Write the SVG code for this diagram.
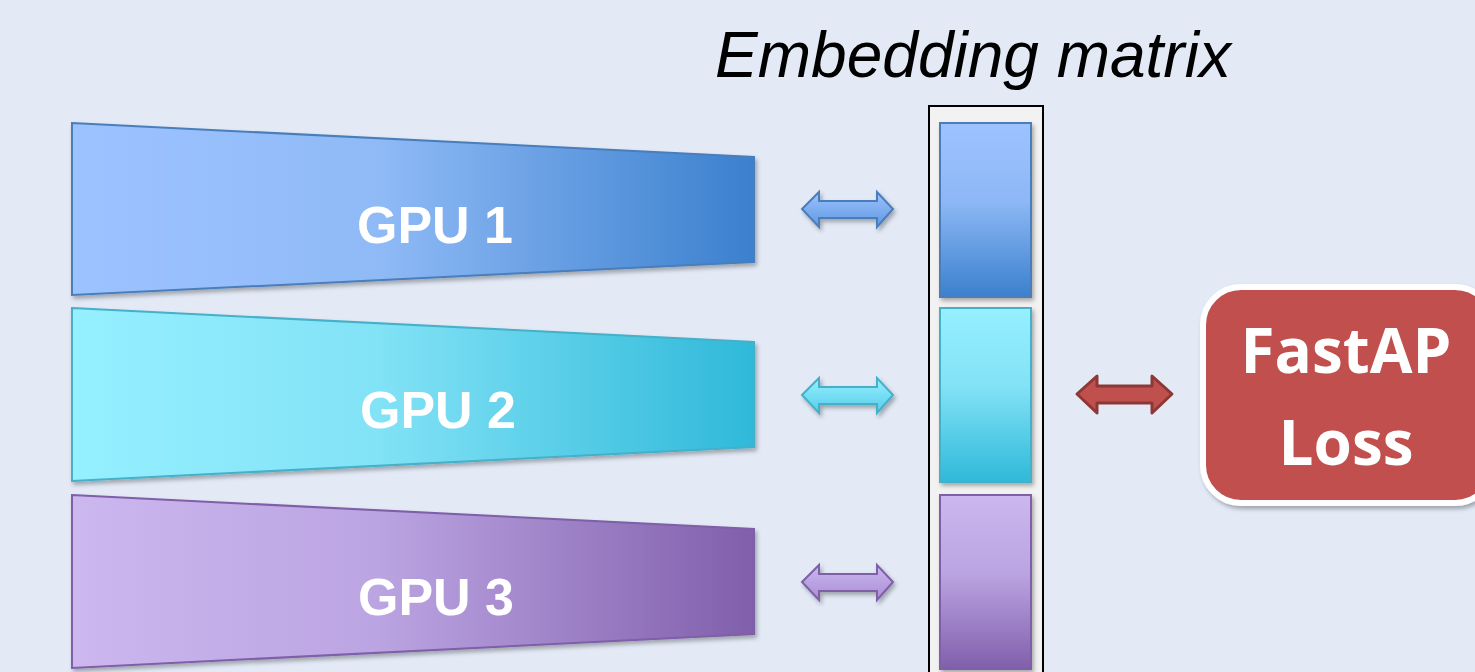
<svg xmlns="http://www.w3.org/2000/svg" width="1475" height="672" viewBox="0 0 1475 672">
<defs>
<linearGradient id="gBlueH" x1="0" y1="0" x2="1" y2="0"><stop offset="0" stop-color="#9DC3FF"/><stop offset="0.45" stop-color="#8FBAF6"/><stop offset="1" stop-color="#3B80CE"/></linearGradient>
<linearGradient id="gCyanH" x1="0" y1="0" x2="1" y2="0"><stop offset="0" stop-color="#95F0FF"/><stop offset="0.45" stop-color="#82E2F6"/><stop offset="1" stop-color="#2FB9D9"/></linearGradient>
<linearGradient id="gPurpH" x1="0" y1="0" x2="1" y2="0"><stop offset="0" stop-color="#CCB7EF"/><stop offset="0.45" stop-color="#BBA4E2"/><stop offset="1" stop-color="#805FAB"/></linearGradient>
<linearGradient id="gBlueV" x1="0" y1="0" x2="0" y2="1"><stop offset="0" stop-color="#9DC3FF"/><stop offset="0.45" stop-color="#8DB8F5"/><stop offset="1" stop-color="#3B80CE"/></linearGradient>
<linearGradient id="gCyanV" x1="0" y1="0" x2="0" y2="1"><stop offset="0" stop-color="#95F0FF"/><stop offset="0.45" stop-color="#82E2F6"/><stop offset="1" stop-color="#2FB9D9"/></linearGradient>
<linearGradient id="gPurpV" x1="0" y1="0" x2="0" y2="1"><stop offset="0" stop-color="#CCB7EF"/><stop offset="0.45" stop-color="#BBA4E2"/><stop offset="1" stop-color="#805FAB"/></linearGradient>
<linearGradient id="aBlue" x1="0" y1="0" x2="0" y2="1"><stop offset="0" stop-color="#9DC3FF"/><stop offset="1" stop-color="#5F98E0"/></linearGradient>
<linearGradient id="aCyan" x1="0" y1="0" x2="0" y2="1"><stop offset="0" stop-color="#95F0FF"/><stop offset="1" stop-color="#56CDE8"/></linearGradient>
<linearGradient id="aPurp" x1="0" y1="0" x2="0" y2="1"><stop offset="0" stop-color="#CCB7EF"/><stop offset="1" stop-color="#A88ED6"/></linearGradient>
<filter id="sh" x="-10%" y="-10%" width="125%" height="130%"><feDropShadow dx="2" dy="3" stdDeviation="2" flood-color="#000" flood-opacity="0.3"/></filter>
<path id="arr" d="M0,17 L17,0 L17,9 L75,9 L75,0 L91,17 L75,35 L75,26 L17,26 L17,35 Z"/>
</defs>
<style>
.lbl{font-family:"Liberation Sans",Arial,sans-serif;font-weight:bold;font-size:52px;fill:#FFFFFF;text-anchor:middle}
.loss{font-family:"Open Sans","Liberation Sans",sans-serif;font-weight:bold;font-size:62px;fill:#FFFFFF;text-anchor:middle}
.ttl{font-family:"Liberation Sans",Arial,sans-serif;font-style:italic;font-size:64px;fill:#000000;text-anchor:middle}
</style>
<rect x="0" y="0" width="1475" height="672" fill="#E3EAF6"/>
<text class="ttl" x="973" y="77">Embedding matrix</text>
<g id="gpu1"><polygon points="72,123 754,157 754,262 72,295" fill="url(#gBlueH)" stroke="#4A7EBB" stroke-width="2" filter="url(#sh)"/><text class="lbl" x="435" y="243">GPU 1</text></g>
<g id="gpu2"><polygon points="72,308 754,342 754,447 72,481" fill="url(#gCyanH)" stroke="#45B0C8" stroke-width="2" filter="url(#sh)"/><text class="lbl" x="438" y="428">GPU 2</text></g>
<g id="gpu3"><polygon points="72,495 754,529 754,634 72,668" fill="url(#gPurpH)" stroke="#7E5FA8" stroke-width="2" filter="url(#sh)"/><text class="lbl" x="436" y="615">GPU 3</text></g>
<g id="embedding">
<rect x="929" y="106" width="114" height="580" fill="#F2F2F2" stroke="#000" stroke-width="2"/>
<rect x="940" y="123" width="91" height="174" fill="url(#gBlueV)" stroke="#4A7EBB" stroke-width="2" filter="url(#sh)"/>
<rect x="940" y="308" width="91" height="174" fill="url(#gCyanV)" stroke="#45B0C8" stroke-width="2" filter="url(#sh)"/>
<rect x="940" y="495" width="91" height="174" fill="url(#gPurpV)" stroke="#7E5FA8" stroke-width="2" filter="url(#sh)"/>
</g>
<g id="fastap"><rect x="1203" y="287" width="290" height="216" rx="38" fill="#C0504D" stroke="#FFFFFF" stroke-width="6" filter="url(#sh)"/><text class="loss" x="1346" y="373">FastAP</text><text class="loss" x="1346" y="465">Loss</text></g>
<g id="connectors">
<use href="#arr" transform="translate(802,192)" fill="url(#aBlue)" stroke="#4A7EBB" stroke-width="2" filter="url(#sh)"/>
<use href="#arr" transform="translate(802,378)" fill="url(#aCyan)" stroke="#45B0C8" stroke-width="2" filter="url(#sh)"/>
<use href="#arr" transform="translate(802,565)" fill="url(#aPurp)" stroke="#7E5FA8" stroke-width="2" filter="url(#sh)"/>
<path d="M1077,394 L1097,376 L1097,386 L1152,386 L1152,376 L1172,394 L1152,413 L1152,403 L1097,403 L1097,413 Z" fill="#C0504D" stroke="#8C3836" stroke-width="3" stroke-linejoin="round"/>
</g>
</svg>
